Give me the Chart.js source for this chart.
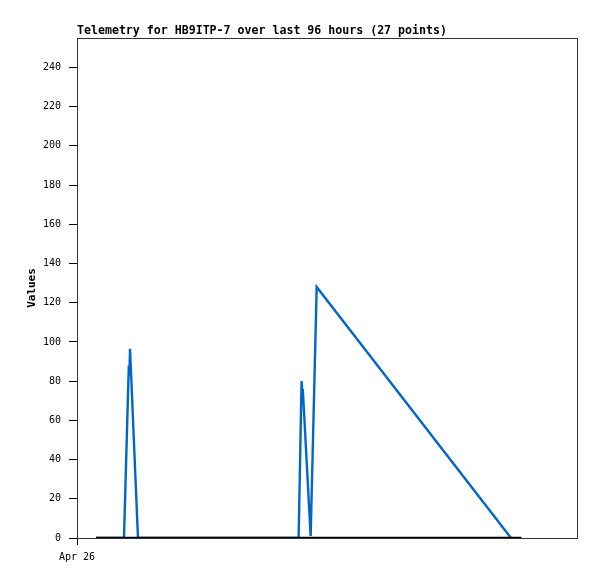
<!DOCTYPE html>
<html>
<head>
<meta charset="utf-8">
<script src="https://cdn.jsdelivr.net/npm/chart.js@4.4.1/dist/chart.umd.min.js"></script>
<style>
  body { margin: 0; background: #fff; }
  #wrap { width: 597px; height: 579px; }
</style>
</head>
<body>
<div id="wrap"><canvas id="telemetryChart" width="597" height="579"></canvas></div>
<script>
// hours since Apr 26 00:00 (x), telemetry values (y)
const blueHours  = [3.65, 7.0, 9.02, 9.95, 10.06, 10.18, 11.71, 25.0, 42.55, 43.12, 43.27, 43.35, 44.86, 46.02, 83.33];
const blueValues = [0,    0,   0,    88,   83,    96.5,  0,     0,    0,     80,    74,    76,    1,     128,   0];

const blackHours  = [3.65, 85.34];
const blackValues = [0, 0];

const xTickValues = [0];
const xTickLabels = ['Apr 26'];
const yTickValues = [0, 20, 40, 60, 80, 100, 120, 140, 160, 180, 200, 220, 240];

const monoFont = 'DejaVu Sans Mono';

// frame round the plot area
const framePlugin = {
    id: 'frame',
    afterDraw(chart) {
        const a = chart.chartArea;
        const ctx = chart.ctx;
        ctx.save();
        ctx.strokeStyle = '#333333';
        ctx.lineWidth = 1;
        ctx.strokeRect(a.left + 0.5, a.top + 0.5, a.right - a.left, a.bottom - a.top);
        ctx.restore();
    }
};

function toPoints(xs, ys) {
    return xs.map((x, i) => ({ x: x, y: ys[i] }));
}

const ctx = document.getElementById('telemetryChart').getContext('2d');
new Chart(ctx, {
    type: 'line',
    data: {
        datasets: [
            {
                label: 'baseline',
                data: toPoints(blackHours, blackValues),
                borderColor: '#000000',
                borderWidth: 2.5,
                pointRadius: 0,
                tension: 0,
                fill: false
            },
            {
                label: 'telemetry',
                data: toPoints(blueHours, blueValues),
                borderColor: '#0066cc',
                borderWidth: 2.4,
                pointRadius: 0,
                tension: 0,
                fill: false
            }
        ]
    },
    options: {
        responsive: false,
        animation: false,
        layout: { padding: { left: 0, right: 20, top: 0, bottom: 0 } },
        plugins: {
            legend: { display: false },
            tooltip: { enabled: false },
            title: {
                display: true,
                text: 'Telemetry for HB9ITP-7 over last 96 hours (27 points)',
                align: 'start',
                fullSize: false,
                color: '#000000',
                font: { family: monoFont, size: 11.6, weight: 'bold', lineHeight: '14px' },
                padding: { top: 24, bottom: 0 }
            }
        },
        scales: {
            x: {
                type: 'linear',
                min: 0,
                max: 96,
                afterFit: function(scale) { scale.height = 41; },
                afterBuildTicks: function(scale) {
                    scale.ticks = xTickValues.map(v => ({ value: v }));
                },
                ticks: {
                    autoSkip: false,
                    maxRotation: 0,
                    padding: 6,
                    color: '#000000',
                    font: { family: monoFont, size: 10 },
                    callback: function(value) {
                        const i = xTickValues.indexOf(value);
                        return i >= 0 ? xTickLabels[i] : '';
                    }
                },
                grid: { drawOnChartArea: false, tickLength: 7, color: '#000000' },
                border: { color: '#000000', width: 1 }
            },
            y: {
                min: 0,
                max: 255,
                afterFit: function(scale) { scale.width = 77; },
                afterBuildTicks: function(scale) {
                    scale.ticks = yTickValues.map(v => ({ value: v }));
                },
                ticks: {
                    padding: 8,
                    color: '#000000',
                    font: { family: monoFont, size: 10 }
                },
                grid: { drawOnChartArea: false, tickLength: 8, color: '#000000' },
                border: { color: '#000000', width: 1 },
                title: {
                    display: true,
                    text: 'Values',
                    color: '#000000',
                    font: { family: monoFont, size: 11, weight: 'bold', lineHeight: '12px' },
                    padding: { top: 26, bottom: 0 }
                }
            }
        }
    },
    plugins: [framePlugin]
});
</script>
</body>
</html>
